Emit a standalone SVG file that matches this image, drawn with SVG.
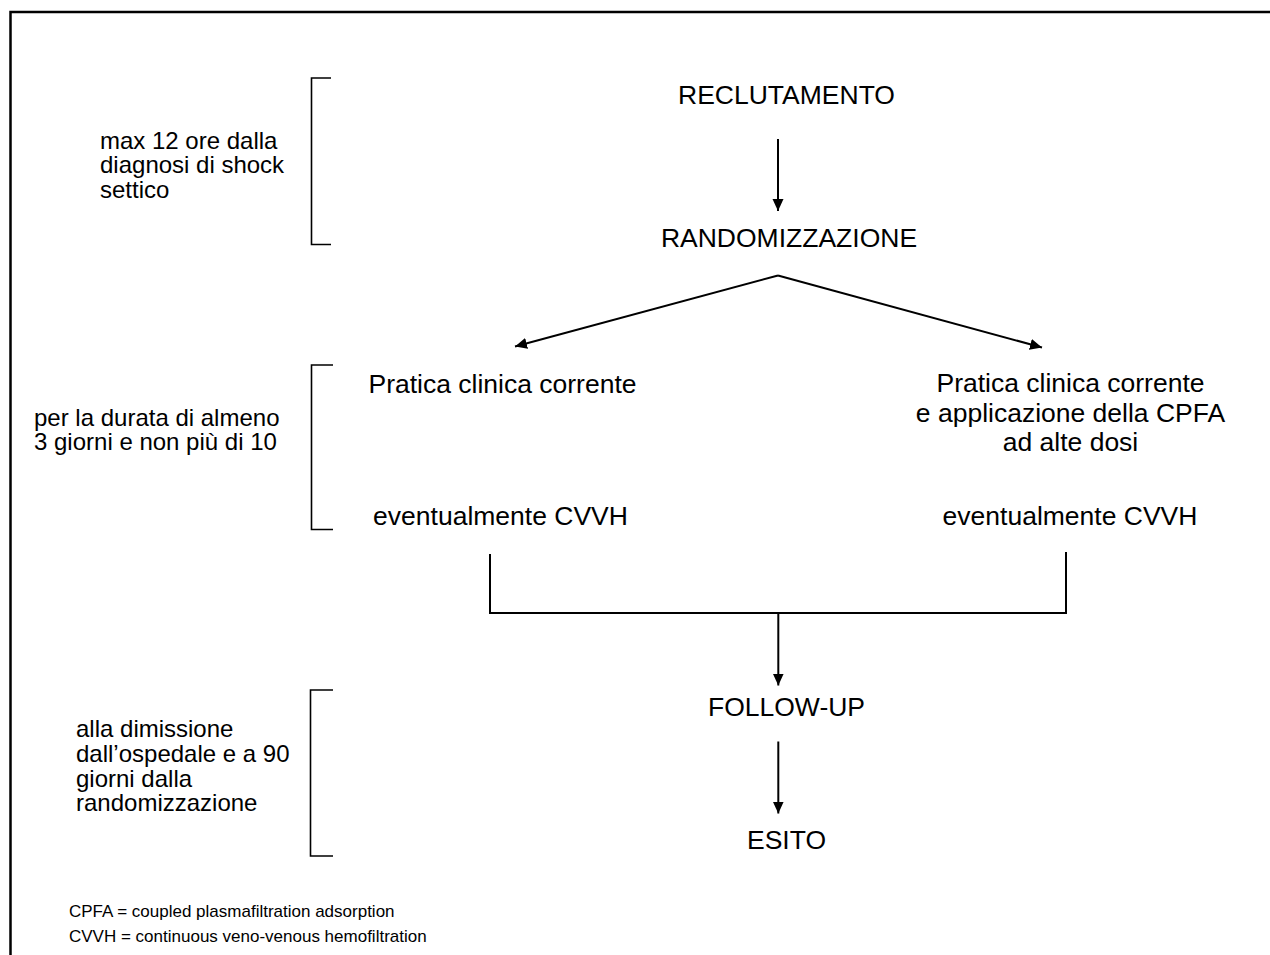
<svg xmlns="http://www.w3.org/2000/svg" width="1270" height="955" viewBox="0 0 1270 955">
<style>
text { font-family: "Liberation Sans", Arial, sans-serif; fill: #000; }
.main { font-size: 26.5px; text-anchor: middle; }
.side { font-size: 24px; }
.legend { font-size: 17px; }
.ln { fill: none; stroke: #000; stroke-width: 2; }
.br { fill: none; stroke: #000; stroke-width: 1.6; }
.frame { fill: none; stroke: #000; stroke-width: 2.5; }
</style>
<defs>
<marker id="ah" markerUnits="userSpaceOnUse" markerWidth="12" markerHeight="12" viewBox="0 0 12 12" refX="12" refY="6" orient="auto">
<path d="M0,0.5 L12,6 L0,11.5 z" fill="#000"/>
</marker>
</defs>
<rect width="1270" height="955" fill="#fff"/>
<path class="frame" d="M10.5,955 L10.5,12 L1270,12"/>

<g id="brackets">
<path class="br" d="M331,78 L311.5,78 L311.5,244.5 L331,244.5"/>
<path class="br" d="M333,365 L311.5,365 L311.5,529.5 L333,529.5"/>
<path class="br" d="M333,690 L310.5,690 L310.5,856 L333,856"/>
</g>

<g id="label-time1">
<text class="side" x="100" y="148.5">max 12 ore dalla</text>
<text class="side" x="100" y="173">diagnosi di shock</text>
<text class="side" x="100" y="197.5">settico</text>
</g>
<g id="label-time2">
<text class="side" x="34" y="425.5">per la durata di almeno</text>
<text class="side" x="34" y="450">3 giorni e non più di 10</text>
</g>
<g id="label-time3">
<text class="side" x="76" y="737">alla dimissione</text>
<text class="side" x="76" y="762">dall’ospedale e a 90</text>
<text class="side" x="76" y="786.5">giorni dalla</text>
<text class="side" x="76" y="811">randomizzazione</text>
</g>

<g id="n-reclutamento"><text class="main" x="786.5" y="104">RECLUTAMENTO</text></g>
<g id="n-randomizzazione"><text class="main" x="789" y="246.5">RANDOMIZZAZIONE</text></g>
<g id="n-pratica">
<text class="main" x="502.5" y="392.5">Pratica clinica corrente</text>
<text class="main" x="500.5" y="524.5">eventualmente CVVH</text>
</g>
<g id="n-pratica-cpfa">
<text class="main" x="1070.5" y="391.5">Pratica clinica corrente</text>
<text class="main" x="1070.5" y="421.5">e applicazione della CPFA</text>
<text class="main" x="1070.5" y="450.5">ad alte dosi</text>
<text class="main" x="1070" y="525">eventualmente CVVH</text>
</g>
<g id="n-followup"><text class="main" x="786.5" y="716">FOLLOW-UP</text></g>
<g id="n-esito"><text class="main" x="786.5" y="848.5">ESITO</text></g>

<g id="connectors">
<line class="ln" x1="778" y1="139" x2="778" y2="211" marker-end="url(#ah)"/>
<line class="ln" x1="778" y1="275.5" x2="515" y2="346.5" marker-end="url(#ah)"/>
<line class="ln" x1="778" y1="275.5" x2="1042" y2="347.5" marker-end="url(#ah)"/>
<path class="ln" d="M490,554 L490,613 L1066,613 L1066,552"/>
<line class="ln" x1="778.3" y1="613" x2="778.3" y2="685.5" marker-end="url(#ah)"/>
<line class="ln" x1="778.3" y1="741.5" x2="778.3" y2="813.5" marker-end="url(#ah)"/>
</g>

<g id="legend">
<text class="legend" x="69" y="917">CPFA = coupled plasmafiltration adsorption</text>
<text class="legend" x="69" y="942">CVVH = continuous veno-venous hemofiltration</text>
</g>
</svg>
